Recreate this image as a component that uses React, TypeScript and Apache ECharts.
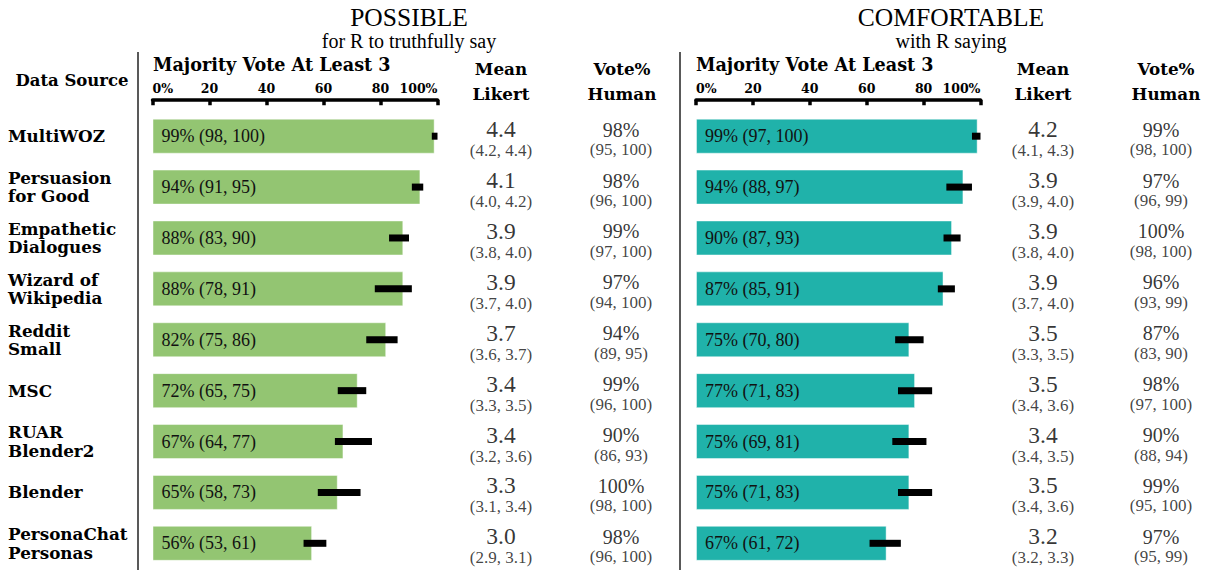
import React, { useEffect, useRef } from "react";
import * as echarts from "echarts";

const categories = [
  "MultiWOZ",
  "Persuasion\nfor Good",
  "Empathetic\nDialogues",
  "Wizard of\nWikipedia",
  "Reddit\nSmall",
  "MSC",
  "RUAR\nBlender2",
  "Blender",
  "PersonaChat\nPersonas",
];

const tickValues = [0, 20, 40, 60, 80, 100];

const possibleVote = [99, 94, 88, 88, 82, 72, 67, 65, 56];
const possibleLo = [98, 91, 83, 78, 75, 65, 64, 58, 53];
const possibleHi = [100, 95, 90, 91, 86, 75, 77, 73, 61];
const possibleLikert = [4.4, 4.1, 3.9, 3.9, 3.7, 3.4, 3.4, 3.3, 3.0];
const possibleLikertLo = [4.2, 4.0, 3.8, 3.7, 3.6, 3.3, 3.2, 3.1, 2.9];
const possibleLikertHi = [4.4, 4.2, 4.0, 4.0, 3.7, 3.5, 3.6, 3.4, 3.1];
const possibleHuman = [98, 98, 99, 97, 94, 99, 90, 100, 98];
const possibleHumanLo = [95, 96, 97, 94, 89, 96, 86, 98, 96];
const possibleHumanHi = [100, 100, 100, 100, 95, 100, 93, 100, 100];

const comfortableVote = [99, 94, 90, 87, 75, 77, 75, 75, 67];
const comfortableLo = [97, 88, 87, 85, 70, 71, 69, 71, 61];
const comfortableHi = [100, 97, 93, 91, 80, 83, 81, 83, 72];
const comfortableLikert = [4.2, 3.9, 3.9, 3.9, 3.5, 3.5, 3.4, 3.5, 3.2];
const comfortableLikertLo = [4.1, 3.9, 3.8, 3.7, 3.3, 3.4, 3.4, 3.4, 3.2];
const comfortableLikertHi = [4.3, 4.0, 4.0, 4.0, 3.5, 3.6, 3.5, 3.6, 3.3];
const comfortableHuman = [99, 97, 100, 96, 87, 98, 90, 99, 97];
const comfortableHumanLo = [98, 96, 98, 93, 83, 97, 88, 95, 95];
const comfortableHumanHi = [100, 99, 100, 99, 90, 100, 94, 100, 99];

const REG = "Liberation Serif";
const BOLD = "DejaVu Serif";
const GREEN = "#93c572";
const TEAL = "#20b2aa";
const GRID_TOP = 110.75;
const GRID_H = 458;

function buildOption() {
  const grids: any[] = [
    { left: 152.5, width: 285 }, // left bars
    { left: 446, width: 110 }, // left likert
    { left: 571, width: 100 }, // left vote
    { left: 696, width: 284.5 }, // right bars
    { left: 988, width: 110 }, // right likert
    { left: 1116, width: 100 }, // right vote
  ].map((g) => ({ ...g, top: GRID_TOP, height: GRID_H, containLabel: false }));

  const barX = (gi: number) => ({
    type: "value",
    gridIndex: gi,
    position: "top",
    offset: 11,
    min: 0,
    max: 100,
    interval: 20,
    axisLine: { show: true, lineStyle: { color: "#000", width: 3.5 } },
    axisTick: { show: true, inside: true, length: 5.5, lineStyle: { color: "#000", width: 3.5 } },
    splitLine: { show: false },
    axisLabel: {
      show: true,
      margin: 5,
      color: "#000",
      fontFamily: BOLD,
      fontWeight: "bold",
      fontSize: 12.5,
      alignMinLabel: "left",
      alignMaxLabel: "right",
      formatter: (v: number) =>
        tickValues.includes(v) ? (v === 0 || v === 100 ? `${v}%` : String(v)) : "",
    },
  });
  const hiddenX = (gi: number) => ({
    type: "value",
    gridIndex: gi,
    min: 0,
    max: 1,
    show: false,
  });
  const yAx = (gi: number, labels: boolean) => ({
    type: "category",
    gridIndex: gi,
    data: categories,
    inverse: true,
    axisLine: { show: false },
    axisTick: { show: false },
    splitLine: { show: false },
    axisLabel: labels
      ? {
          show: true,
          align: "left",
          margin: 144.5,
          color: "#000",
          fontFamily: BOLD,
          fontWeight: "bold",
          fontSize: 16.8,
          lineHeight: 18.5,
        }
      : { show: false },
  });

  const barSeries = (gi: number, vals: number[], lo: number[], hi: number[], color: string) => [
    {
      type: "bar",
      xAxisIndex: gi,
      yAxisIndex: gi,
      data: vals,
      barWidth: 35,
      itemStyle: { color, borderColor: "rgba(255,255,255,0.45)", borderWidth: 1 },
      label: {
        show: true,
        position: "insideLeft",
        distance: 9,
        color: "#111",
        fontFamily: REG,
        fontSize: 18,
        formatter: (p: any) => `${vals[p.dataIndex]}% (${lo[p.dataIndex]}, ${hi[p.dataIndex]})`,
      },
      z: 2,
    },
    {
      type: "custom",
      xAxisIndex: gi,
      yAxisIndex: gi,
      data: lo.map((l, i) => [l, hi[i], i]),
      encode: { x: [0, 1], y: 2 },
      clip: false,
      z: 5,
      renderItem: (_params: any, api: any) => {
        const i = api.value(2);
        const s = api.coord([api.value(0), i]);
        const e = api.coord([api.value(1), i]);
        return {
          type: "rect",
          shape: { x: s[0], y: s[1] - 3.5, width: e[0] - s[0], height: 7 },
          style: { fill: "#000" },
        };
      },
    },
  ];

  const textSeries = (
    gi: number,
    main: string[],
    lo: (string | number)[],
    hi: (string | number)[],
    bigSize: number,
    la: number,
    lb: number
  ) => ({
    type: "scatter",
    xAxisIndex: gi,
    yAxisIndex: gi,
    symbolSize: 1,
    itemStyle: { color: "rgba(0,0,0,0)" },
    data: categories.map((_c, i) => [0.5, i]),
    label: {
      show: true,
      position: "inside",
      formatter: (p: any) => `{a|${main[p.dataIndex]}}\n{b|(${lo[p.dataIndex]}, ${hi[p.dataIndex]})}`,
      rich: {
        a: { fontFamily: REG, fontSize: bigSize, color: "#000", lineHeight: la, align: "center" },
        b: { fontFamily: REG, fontSize: 17, color: "#111", lineHeight: lb, align: "center" },
      },
    },
  });

  const f1 = (v: number) => v.toFixed(1);

  const txt = (x: number, y: number, text: string, size: number, bold: boolean, align = "center") => ({
    type: "text",
    x,
    y,
    style: {
      text,
      fontFamily: bold ? BOLD : REG,
      fontSize: size,
      fontWeight: bold ? "bold" : "normal",
      fill: "#000",
      align,
      verticalAlign: "middle",
    },
  });

  return {
    animation: false,
    backgroundColor: "#fff",
    grid: grids,
    xAxis: [barX(0), hiddenX(1), hiddenX(2), barX(3), hiddenX(4), hiddenX(5)],
    yAxis: [yAx(0, true), yAx(1, false), yAx(2, false), yAx(3, false), yAx(4, false), yAx(5, false)],
    series: [
      ...barSeries(0, possibleVote, possibleLo, possibleHi, GREEN),
      textSeries(1, possibleLikert.map(f1), possibleLikertLo.map(f1), possibleLikertHi.map(f1), 23.5, 29, 14),
      textSeries(2, possibleHuman.map((v) => `${v}%`), possibleHumanLo, possibleHumanHi, 20, 27, 13),
      ...barSeries(3, comfortableVote, comfortableLo, comfortableHi, TEAL),
      textSeries(4, comfortableLikert.map(f1), comfortableLikertLo.map(f1), comfortableLikertHi.map(f1), 23.5, 29, 14),
      textSeries(5, comfortableHuman.map((v) => `${v}%`), comfortableHumanLo, comfortableHumanHi, 20, 27, 13),
    ],
    graphic: [
      txt(409, 17, "POSSIBLE", 25.5, false),
      txt(409, 41, "for R to truthfully say", 20, false),
      txt(951, 17, "COMFORTABLE", 25.5, false),
      txt(951, 41, "with R saying", 20, false),
      txt(72, 80, "Data Source", 16.5, true),
      txt(153, 64, "Majority Vote At Least 3", 17.6, true, "left"),
      txt(696, 64, "Majority Vote At Least 3", 17.6, true, "left"),
      txt(501, 69, "Mean", 16.8, true),
      txt(501, 94, "Likert", 16.8, true),
      txt(622, 69, "Vote%", 16.8, true),
      txt(622, 94, "Human", 16.8, true),
      txt(1043, 69, "Mean", 16.8, true),
      txt(1043, 94, "Likert", 16.8, true),
      txt(1166, 69, "Vote%", 16.8, true),
      txt(1166, 94, "Human", 16.8, true),
      {
        type: "line",
        shape: { x1: 138, y1: 52, x2: 138, y2: 570 },
        style: { stroke: "#222", lineWidth: 1.5 },
      },
      {
        type: "line",
        shape: { x1: 680, y1: 52, x2: 680, y2: 570 },
        style: { stroke: "#222", lineWidth: 1.5 },
      },
    ],
  };
}

export default function App() {
  const ref = useRef<HTMLDivElement>(null);
  useEffect(() => {
    if (!ref.current) return;
    const chart = echarts.init(ref.current, undefined, { renderer: "svg" });
    chart.setOption(buildOption() as any);
    return () => chart.dispose();
  }, []);
  return (
    <div
      ref={ref}
      style={{ position: "fixed", left: 0, top: 0, width: 1206, height: 570, background: "#fff" }}
    />
  );
}
